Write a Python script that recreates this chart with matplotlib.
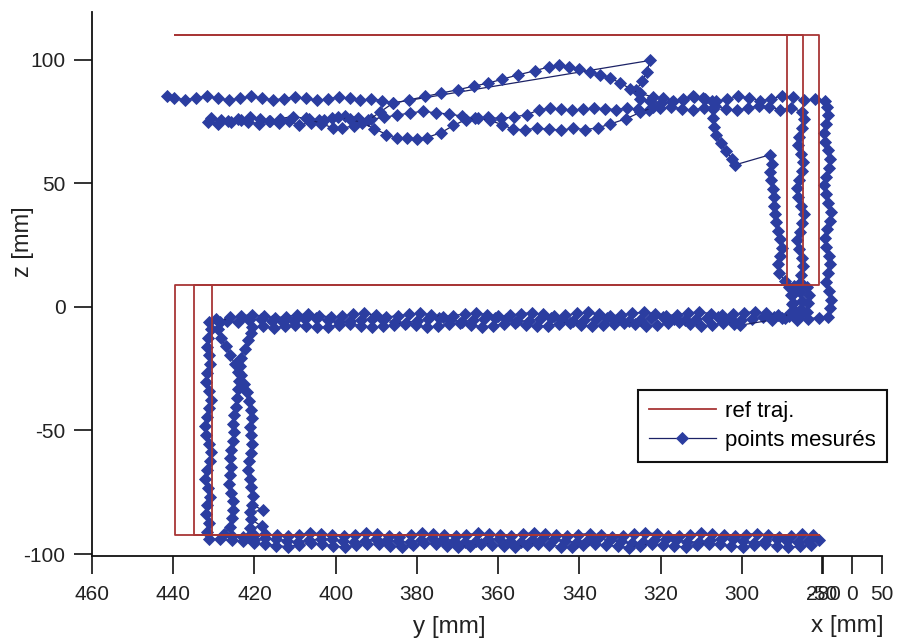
import matplotlib
matplotlib.use("Agg")
import matplotlib.pyplot as plt

plt.rcParams['font.family'] = ['Liberation Sans', 'DejaVu Sans']

# ---------------- data ----------------
y_ticks = [460, 440, 420, 400, 380, 360, 340, 320, 300, 280]
x_ticks = [-50, 0, 50]
z_ticks = [-100, -50, 0, 50, 100]

# reference trajectory: three offset passes (left x, right x)
ref_left = [439.5, 435.0, 430.5]
ref_right = [281.0, 285.0, 289.0]
ref_z_bottom = -92.5
ref_z_middle = 9.0
ref_z_top = 110.0
ref_top_end = 439.5

# measured points (y [mm], z [mm])
bot1 = [(281.0,-94.2),(283.6,-94.9),(286.1,-95.3),(288.9,-94.6),(291.4,-94.0),(294.2,-94.7),(297.0,-95.4),(299.7,-94.8),(302.3,-94.1),(305.2,-93.8),(307.9,-94.5),(310.6,-95.2),(313.4,-95.0),(316.1,-94.3),(318.8,-93.9),(321.6,-94.4),(324.3,-95.1),(327.0,-95.6),(329.8,-94.9),(332.5,-94.2),(335.3,-93.7),(338.0,-94.5),(340.7,-95.3),(343.5,-94.7),(346.2,-94.0),(349.0,-93.6),(351.7,-94.3),(354.4,-95.2),(357.2,-94.8),(359.9,-94.1),(362.6,-93.8),(365.4,-94.6),(368.1,-95.1),(370.9,-94.6),(373.6,-94.0),(376.3,-93.7),(379.1,-94.4),(381.8,-95.2),(384.6,-94.9),(387.3,-94.2),(390.0,-93.9),(392.8,-94.6),(395.5,-95.3),(398.2,-94.8),(401.0,-94.1),(403.7,-93.8),(406.5,-94.5),(409.2,-95.0),(411.9,-94.6),(414.7,-94.0),(417.4,-93.6),(420.2,-94.2),(422.9,-94.9),(425.6,-94.5),(428.4,-94.0),(431.2,-93.8)]
left1 = [(431.8,-91.0),(431.3,-87.4),(432.0,-83.9),(431.6,-80.2),(430.9,-76.8),(431.4,-73.1),(432.1,-69.6),(431.7,-66.0),(431.0,-62.4),(430.6,-58.9),(431.2,-55.3),(431.9,-51.7),(432.3,-48.2),(431.8,-44.6),(431.1,-41.0),(430.7,-37.5),(431.3,-33.9),(432.0,-30.3),(431.6,-26.8),(430.9,-23.2),(431.2,-19.6),(431.8,-16.1),(431.4,-12.5),(430.8,-9.0),(431.3,-6.2)]
mid1 = [(429.5,-5.0),(426.8,-5.6),(424.0,-6.1),(421.3,-5.4),(418.5,-4.9),(415.8,-5.5),(413.0,-6.2),(410.3,-5.7),(407.5,-5.0),(404.8,-4.6),(402.0,-5.3),(399.3,-6.0),(396.5,-5.8),(393.8,-5.1),(391.0,-4.7),(388.3,-5.2),(385.5,-5.9),(382.8,-6.3),(380.0,-5.6),(377.3,-5.0),(374.5,-4.5),(371.8,-5.2),(369.0,-5.9),(366.3,-5.4),(363.5,-4.8),(360.8,-4.4),(358.0,-5.0),(355.3,-5.8),(352.5,-5.5),(349.8,-4.9),(347.0,-4.5),(344.3,-5.1),(341.5,-5.7),(338.8,-5.3),(336.0,-4.7),(333.3,-4.3),(330.5,-4.9),(327.8,-5.6),(325.0,-5.2),(322.3,-4.6),(319.5,-4.2),(316.8,-4.8),(314.0,-5.4),(311.3,-5.0),(308.5,-4.4),(305.8,-4.0),(303.0,-4.6),(300.3,-5.2),(297.5,-4.8),(294.8,-4.2),(292.0,-3.9),(289.3,-4.5),(286.5,-5.1),(283.8,-4.7),(281.0,-4.3),(278.8,-4.0)]
right1 = [(278.4,-0.5),(278.0,3.0),(278.6,6.6),(279.3,10.1),(278.9,13.7),(278.2,17.2),(278.5,20.8),(279.2,24.3),(279.6,27.9),(279.0,31.4),(278.4,35.0),(278.1,38.5),(278.7,42.1),(279.4,45.6),(279.8,49.2),(279.2,52.7),(278.6,56.3),(278.3,59.8),(278.9,63.4),(279.5,66.9),(279.9,70.5),(279.3,74.0),(278.7,77.6),(279.0,81.1),(279.6,83.5)]
top1a = [(282.0,84.3),(284.7,83.6),(287.4,84.9),(290.1,85.5),(292.8,84.2),(295.5,83.4),(298.2,84.6),(300.9,85.3),(303.6,84.0),(306.3,83.2),(309.0,84.1),(311.7,84.8),(314.4,83.9),(317.1,83.0),(319.8,82.6),(322.5,83.3),(325.2,84.0),(326.0,87.8),(324.5,91.5),(323.4,95.2),(322.6,99.8)]
top1b = [(385.8,82.6),(388.5,83.5),(391.2,84.3),(393.9,83.7),(396.6,84.5),(399.3,85.0),(402.0,84.2),(404.7,83.6),(407.4,84.4),(410.1,85.1),(412.8,84.3),(415.5,83.8),(418.2,84.6),(420.9,85.2),(423.6,84.4),(426.3,83.7),(429.0,84.5),(431.7,85.3),(434.4,84.6),(437.1,83.8),(439.8,84.7),(441.5,85.3)]

bot2 = [(282.5,-92.4),(285.3,-91.8),(288.0,-92.6),(290.8,-93.0),(293.5,-92.3),(296.3,-91.7),(299.0,-92.1),(301.8,-92.8),(304.5,-92.5),(307.3,-91.9),(310.0,-91.5),(312.8,-92.2),(315.5,-92.9),(318.3,-92.6),(321.0,-91.8),(323.8,-91.4),(326.5,-92.0),(329.3,-92.7),(332.0,-93.1),(334.8,-92.4),(337.5,-91.7),(340.3,-92.1),(343.0,-92.8),(345.8,-92.5),(348.5,-91.9),(351.3,-91.3),(354.0,-92.0),(356.8,-92.7),(359.5,-92.4),(362.3,-91.8),(365.0,-91.5),(367.8,-92.2),(370.5,-92.9),(373.3,-92.5),(376.0,-91.9),(378.8,-91.6),(381.5,-92.3),(384.3,-93.0),(387.0,-92.6),(389.8,-91.9),(392.5,-91.4),(395.3,-92.1),(398.0,-92.8),(400.8,-92.4),(403.5,-91.8),(406.3,-91.5),(409.0,-92.2),(411.8,-92.9),(414.5,-92.5),(417.3,-91.9),(420.0,-92.3),(422.8,-93.0),(425.5,-92.6),(427.5,-91.8)]
left2 = [(426.0,-89.0),(425.6,-85.5),(425.2,-82.0),(425.4,-78.6),(425.9,-75.1),(426.2,-71.6),(426.0,-68.1),(425.7,-64.6),(426.1,-61.2),(425.8,-57.7),(425.3,-54.2),(425.0,-50.7),(425.4,-47.2),(425.1,-43.8),(424.6,-40.3),(424.3,-36.8),(424.0,-33.3),(423.8,-29.8),(424.0,-26.4),(424.9,-22.9),(426.0,-19.4),(427.1,-15.9),(428.2,-12.4),(428.9,-9.0),(428.5,-6.0)]
mid2 = [(426.0,-4.2),(423.2,-3.6),(420.5,-3.1),(417.7,-3.8),(415.0,-4.4),(412.2,-3.9),(409.5,-3.2),(406.7,-2.8),(404.0,-3.5),(401.2,-4.1),(398.5,-3.7),(395.7,-3.0),(393.0,-2.6),(390.2,-3.3),(387.5,-4.0),(384.7,-3.6),(382.0,-2.9),(379.2,-2.5),(376.5,-3.2),(373.7,-3.9),(371.0,-3.5),(368.2,-2.8),(365.5,-2.4),(362.7,-3.1),(360.0,-3.8),(357.2,-3.4),(354.5,-2.7),(351.7,-2.3),(349.0,-3.0),(346.2,-3.7),(343.5,-3.3),(340.7,-2.6),(338.0,-2.2),(335.2,-2.9),(332.5,-3.6),(329.7,-3.2),(327.0,-2.5),(324.2,-2.1),(321.5,-2.8),(318.7,-3.5),(316.0,-3.1),(313.2,-2.4),(310.5,-2.0),(307.7,-2.7),(305.0,-3.4),(302.2,-3.0),(299.5,-2.3),(296.7,-1.9),(294.0,-2.6),(291.2,-3.3),(288.5,-3.8),(285.8,-3.2),(284.0,-2.0)]
loop2 = [(283.6,1.5),(283.4,5.0),(283.9,8.2),(285.5,9.6),(287.2,8.4),(287.6,5.0),(287.3,1.6),(287.0,-1.8),(286.4,-3.5),(285.4,-1.0)]
right2 = [(285.2,2.5),(285.6,6.0),(285.9,9.5),(285.4,13.0),(284.9,16.5),(285.3,20.0),(286.0,23.5),(286.4,27.0),(285.8,30.5),(285.2,34.0),(284.8,37.5),(285.4,41.0),(286.1,44.5),(286.5,48.0),(285.9,51.5),(285.3,55.0),(284.9,58.5),(285.5,62.0),(286.2,65.5),(286.0,69.0),(285.3,72.5),(284.7,76.0),(285.1,79.0)]
top2 = [(287.8,80.6),(290.5,79.8),(293.2,80.9),(295.9,81.5),(298.6,80.4),(301.3,79.6),(304.0,80.3),(306.7,81.2),(309.4,80.5),(312.1,79.7),(314.8,80.2),(317.5,81.0),(320.2,80.4),(322.9,79.8),(325.6,80.0),(328.3,80.5),(331.0,79.9),(333.7,80.2),(336.4,80.6),(339.1,80.0),(341.8,79.7),(344.5,80.1),(347.2,80.4),(349.9,79.8),(353.0,77.8),(356.2,76.9),(359.4,76.3),(362.6,76.8),(365.8,76.4),(369.0,77.3),(372.2,78.1),(375.4,78.6),(378.6,79.2),(381.8,78.5),(385.0,77.6),(388.2,76.8),(391.4,75.9),(394.6,76.6),(397.8,77.4),(401.0,76.5),(404.2,75.6),(407.4,76.3),(410.6,77.1),(413.8,76.2),(416.2,75.1),(418.6,76.0),(421.0,76.9),(423.4,75.8),(425.8,74.9),(428.2,75.6),(430.6,76.4),(431.5,75.0),(429.0,74.2),(426.5,75.3),(424.0,76.2),(421.5,75.0),(419.0,74.1),(416.5,75.4),(414.0,74.3),(411.5,75.2),(409.0,73.8),(406.0,74.6),(403.0,75.8)]

bot3 = [(283.0,-96.2),(285.8,-96.9),(288.6,-97.3),(291.4,-96.6),(294.2,-96.0),(297.0,-96.5),(299.8,-97.2),(302.6,-96.8),(305.4,-96.1),(308.2,-95.8),(311.0,-96.4),(313.8,-97.1),(316.6,-96.9),(319.4,-96.2),(322.2,-95.9),(325.0,-96.6),(327.8,-97.4),(330.6,-96.9),(333.4,-96.3),(336.2,-95.9),(339.0,-96.5),(341.8,-97.3),(344.6,-97.0),(347.4,-96.3),(350.2,-95.8),(353.0,-96.4),(355.8,-97.2),(358.6,-96.8),(361.4,-96.2),(364.2,-95.9),(367.0,-96.6),(369.8,-97.3),(372.6,-96.7),(375.4,-96.0),(378.2,-95.7),(381.0,-96.3),(383.8,-97.1),(386.6,-96.8),(389.4,-96.1),(392.2,-95.8),(395.0,-96.5),(397.8,-97.2),(400.6,-96.7),(403.4,-96.0),(406.2,-95.6),(409.0,-96.3),(411.8,-97.0),(414.6,-96.6),(417.4,-95.9),(420.2,-95.4),(421.5,-93.0)]
left3 = [(421.2,-89.5),(418.2,-88.8),(420.8,-86.0),(421.0,-83.0),(418.0,-82.2),(420.6,-80.0),(420.4,-76.5),(420.8,-73.0),(421.2,-69.5),(421.6,-66.0),(421.3,-62.5),(420.9,-59.0),(420.6,-55.5),(420.8,-52.0),(421.1,-48.5),(420.6,-45.0),(420.9,-41.5),(421.4,-38.0),(421.9,-34.5),(422.5,-31.0),(423.2,-27.5),(423.6,-24.0),(423.3,-20.5),(422.4,-17.0),(421.6,-13.5),(420.9,-10.5),(420.6,-8.0)]
mid3 = [(418.0,-7.8),(415.3,-8.4),(412.6,-7.9),(409.9,-7.2),(407.2,-7.6),(404.5,-8.3),(401.8,-8.0),(399.1,-7.3),(396.4,-6.9),(393.7,-7.5),(391.0,-8.2),(388.3,-7.8),(385.6,-7.1),(382.9,-6.8),(380.2,-7.4),(377.5,-8.1),(374.8,-7.7),(372.1,-7.0),(369.4,-6.6),(366.7,-7.3),(364.0,-8.0),(361.3,-7.6),(358.6,-6.9),(355.9,-6.5),(353.2,-7.2),(350.5,-7.9),(347.8,-7.5),(345.1,-6.8),(342.4,-6.4),(339.7,-7.1),(337.0,-7.8),(334.3,-7.4),(331.6,-6.7),(328.9,-6.3),(326.2,-7.0),(323.5,-7.7),(320.8,-7.3),(318.1,-6.6),(315.4,-6.2),(312.7,-6.9),(310.0,-7.6),(307.3,-7.2),(304.6,-6.5),(301.9,-6.8),(300.4,-7.4)]
right3 = [(292.5,-5.2),(290.0,-4.6),(288.0,-2.0),(287.6,1.4),(287.9,4.8),(288.4,8.0),(289.5,10.5),(290.8,13.8),(291.2,17.2),(290.6,20.6),(290.1,24.0),(290.5,27.4),(291.0,30.8),(291.5,34.2),(291.9,37.6),(292.2,41.0),(292.0,44.4),(292.3,47.8),(292.8,51.2),(293.0,54.6),(292.6,58.0),(293.1,61.6)]
loop3 = [(301.7,57.5),(302.5,60.0),(303.8,63.0),(305.2,66.2),(306.3,69.5),(306.9,73.0),(307.2,76.5),(307.0,80.0),(307.3,83.5)]
top3 = [(309.5,84.6),(312.0,85.3),(314.5,84.2),(317.0,83.5),(319.5,84.4),(322.0,85.0),(325.0,86.5),(327.5,88.3),(330.0,90.8),(332.5,92.6),(335.0,94.0),(337.5,95.1),(340.0,96.2),(342.5,97.3),(345.0,97.9),(347.5,97.2),(351.0,95.6),(355.0,94.0),(359.0,92.2),(362.5,90.6),(366.0,89.4),(370.0,87.9),(374.0,86.6),(378.0,85.2),(382.0,83.8),(386.0,82.4),(389.0,79.0),(392.0,75.5),(395.5,73.4),(398.5,72.3),(400.7,72.5),(403.5,74.2),(406.5,76.0)]
top4 = [(322.0,80.8),(325.0,78.8),(328.5,76.2),(332.5,74.0),(335.5,72.5),(338.5,71.8),(341.5,72.3),(344.5,71.6),(347.5,72.0),(350.5,72.4),(353.5,71.7),(356.4,72.0),(359.0,73.8),(362.0,75.5),(365.0,76.4),(368.0,75.8),(371.0,73.5),(374.0,70.6),(377.5,68.6),(380.0,68.0),(382.5,68.5),(385.0,68.2),(387.5,69.8),(390.5,72.2),(393.5,74.6),(396.5,76.0),(399.5,76.8)]

passes = [
    bot1 + left1 + mid1 + right1 + top1a + top1b,
    bot2 + left2 + mid2 + loop2 + right2 + top2,
    bot3 + left3 + mid3 + right3 + loop3 + top3,
    top4,
]

# ---------------- figure ----------------
W, H = 898, 639
fig = plt.figure(figsize=(W / 100, H / 100), dpi=100)
ax_l, ax_r, ax_t, ax_b = 92, 882, 12, 556
ax = fig.add_axes([ax_l / W, 1 - ax_b / H, (ax_r - ax_l) / W, (ax_b - ax_t) / H])

red = '#a83636'
blue = '#2b3da0'
navy = '#1c2266'

# reference trajectory
for i, (L, R) in enumerate(zip(ref_left, ref_right)):
    ys = [ref_right[0], L, L, R, R, ref_top_end]
    zs = [ref_z_bottom, ref_z_bottom, ref_z_middle, ref_z_middle, ref_z_top, ref_z_top]
    ax.plot(ys, zs, color=red, lw=1.3, zorder=3,
            label='ref traj.' if i == 0 else None)

# measured points
for i, p in enumerate(passes):
    ys = [q[0] for q in p]
    zs = [q[1] for q in p]
    ax.plot(ys, zs, color=navy, lw=0.9, marker='D', markersize=5.8,
            markerfacecolor=blue, markeredgecolor=blue, markeredgewidth=0.6,
            zorder=2, label='points mesurés' if i == 0 else None)

ax.set_xlim(460, 265.5)
ax.set_ylim(-100.8, 119.4)

# x axis: y [mm] ticks plus x [mm] ticks at the right end
x0_pos, x_scale = 272.9, 7.3 / 50.0
x_tick_pos = [x0_pos - v * x_scale for v in x_ticks]
ax.set_xticks(y_ticks + x_tick_pos)
ax.set_xticklabels([str(v) for v in y_ticks] + [str(v) for v in x_ticks])
ax.set_yticks(z_ticks)
ax.set_yticklabels([str(v) for v in z_ticks])

for s in ['top', 'right']:
    ax.spines[s].set_visible(False)
for s in ['left', 'bottom']:
    ax.spines[s].set_linewidth(1.3)
    ax.spines[s].set_color('#111111')

ax.tick_params(axis='both', direction='out', length=13, width=1.2,
               labelsize=15, colors='#111111', labelcolor='#222222')
ax.tick_params(axis='x', pad=8)
ax.tick_params(axis='y', pad=6)

fig.text(449 / W, 1 - 627 / H, 'y [mm]', ha='center', va='center', fontsize=17.5, color='#222222')
fig.text(847 / W, 1 - 626 / H, 'x [mm]', ha='center', va='center', fontsize=17.5, color='#222222')
fig.text(23 / W, 1 - 242 / H, 'z [mm]', ha='center', va='center', fontsize=17,
         rotation=90, color='#222222')

leg = ax.legend(loc='lower left', bbox_to_anchor=((638 - ax_l) / (ax_r - ax_l), (ax_b - 462) / (ax_b - ax_t)),
                borderaxespad=0, fontsize=16, handlelength=3.0, handletextpad=0.4,
                labelspacing=0.35, borderpad=0.5, numpoints=1, fancybox=False,
                framealpha=1, edgecolor='#111111')
leg.get_frame().set_linewidth(1.5)

fig.savefig('out.png', dpi=100)
